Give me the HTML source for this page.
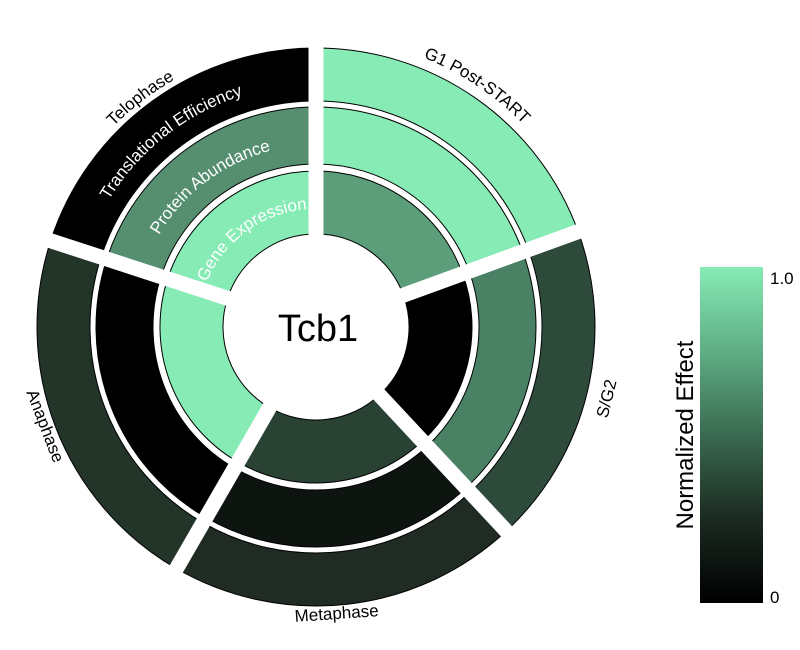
<!DOCTYPE html>
<html><head><meta charset="utf-8"><style>
html,body{margin:0;padding:0;background:#fff;width:800px;height:650px;overflow:hidden}
svg{display:block;font-family:"Liberation Sans",sans-serif}
</style></head><body>
<svg id="s" width="800" height="650" viewBox="0 0 800 650" xmlns="http://www.w3.org/2000/svg">
<defs>
<linearGradient id="cb" x1="0" y1="1" x2="0" y2="0">
<stop offset="0" stop-color="#000"/>
<stop offset="0.25" stop-color="#1b2a21"/>
<stop offset="0.5" stop-color="#3a6a50"/>
<stop offset="0.75" stop-color="#5fae85"/>
<stop offset="1" stop-color="#86ebb5"/>
</linearGradient>
</defs>
<g id="g"></g>
<text x="318" y="341" font-size="38" text-anchor="middle" fill="#000">Tcb1</text>
<rect x="700" y="267" width="63" height="336" fill="url(#cb)"/>
<text x="770" y="284" font-size="17" fill="#000">1.0</text>
<text x="770" y="603" font-size="17" fill="#000">0</text>
<text transform="translate(693,435) rotate(-90)" font-size="24" text-anchor="middle" fill="#000">Normalized Effect</text>
</svg>
<script>
var cx=316,cy=327,NS="http://www.w3.org/2000/svg",g=document.getElementById("g");
function P(r,a){a=a*Math.PI/180;return [cx+r*Math.sin(a),cy-r*Math.cos(a)];}
function sector(r0,r1,a0,a1){var p1=P(r1,a0),p2=P(r1,a1),p3=P(r0,a1),p4=P(r0,a0);var l=(a1-a0)>180?1:0;
return "M"+p1+" A"+r1+","+r1+" 0 "+l+" 1 "+p2+" L"+p3+" A"+r0+","+r0+" 0 "+l+" 0 "+p4+" Z";}
function el(t,at,txt){var e=document.createElementNS(NS,t);for(var k in at)e.setAttribute(k,at[k]);if(txt)e.textContent=txt;g.appendChild(e);return e;}
var b=[0,70,137,210,288,360];
var rings=[[93,156],[163,220],[226,279]];
var cols=[
 ["#5c9e7a","#86ebb5","#86ebb5"],
 ["#000000","#4a8064","#2e4a3a"],
 ["#2a4233","#0e1410","#1f2b23"],
 ["#86ebb5","#000000","#233428"],
 ["#86ebb5","#558f70","#000000"]];
for(var i=0;i<5;i++)for(var j=0;j<3;j++)
 el("path",{d:sector(rings[j][0],rings[j][1],b[i],b[i+1]),fill:cols[i][j],stroke:"#000","stroke-width":"1"});
for(var i=0;i<5;i++){var p=P(300,b[i]);el("line",{x1:cx,y1:cy,x2:p[0],y2:p[1],stroke:"#fff","stroke-width":"15"});}
el("circle",{cx:cx,cy:cy,r:92,fill:"#fff"});
function arcText(r,a,txt,fill,id,fs){var p1=P(r,a-70),p2=P(r,a+70);
 el("path",{id:id,d:"M"+p1+" A"+r+","+r+" 0 0 1 "+p2,fill:"none"});
 var t=el("text",{"font-size":fs,fill:fill,"text-anchor":"middle"});
 var tp=document.createElementNS(NS,"textPath");tp.setAttribute("href","#"+id);tp.setAttribute("startOffset","50%");tp.textContent=txt;t.appendChild(tp);}
arcText(290,33.7,"G1 Post-START","#000","a1","17");
arcText(285,-37.5,"Telophase","#000","a2","17");
arcText(243,-38,"Translational Efficiency","#fff","a3","17");
arcText(182,-37,"Protein Abundance","#fff","a4","17");
arcText(118,-36,"Gene Expression","#fff","a5","17");
el("text",{transform:"translate(612,400) rotate(-76)","font-size":"17","text-anchor":"middle",fill:"#000"},"S/G2");
el("text",{transform:"translate(40,428) rotate(69)","font-size":"17","text-anchor":"middle",fill:"#000"},"Anaphase");
el("text",{transform:"translate(337,619) rotate(-4)","font-size":"17","text-anchor":"middle",fill:"#000"},"Metaphase");
</script>
</body></html>
